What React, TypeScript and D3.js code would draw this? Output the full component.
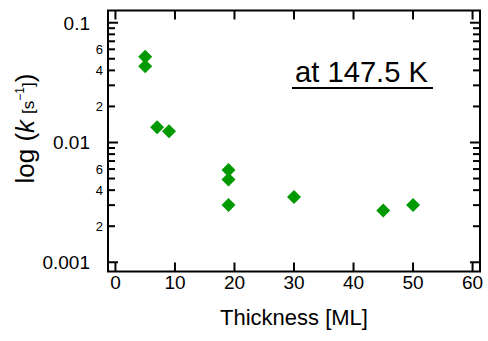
import React from "react";
import * as d3 from "d3";

const thickness = [5, 5, 7, 9, 19, 19, 19, 30, 45, 50];
const rate = [0.0519, 0.0434, 0.0134, 0.0124, 0.0059, 0.0049, 0.0030, 0.0035, 0.0027, 0.0030];
const xTicks = [0, 10, 20, 30, 40, 50, 60];
const yMajor = [0.001, 0.01, 0.1];
const yMajorLabels = ["0.001", "0.01", "0.1"];
const yMinorMult = [2, 3, 4, 5, 6, 7, 8, 9];
const yMinorLabeled = [2, 4, 6];

const W = 488;
const H = 341;
const L = 108, R = 480, T = 10.5, B = 271.5;
const FONT = "'Liberation Sans', Arial, sans-serif";

export default function App() {
  const x = d3.scaleLinear().domain([-1.25, 61.25]).range([L, R]);
  const y = d3.scaleLog().domain([Math.pow(10, -3.0771), Math.pow(10, -0.8979)]).range([B, T]);
  const sym = d3.symbol().type(d3.symbolSquare).size(98)()!;
  const minors: number[] = [];
  yMajor.slice(0, 2).forEach((m) => yMinorMult.forEach((k) => minors.push(m * k)));
  const minorLabels: { v: number; t: string }[] = [];
  yMajor.slice(0, 2).forEach((m) => yMinorLabeled.forEach((k) => minorLabels.push({ v: m * k, t: String(k) })));

  return (
    <svg width={W} height={H} style={{ position: "absolute", left: 0, top: 0, background: "#fff" }} fontFamily={FONT}>
      <rect x={0} y={0} width={W} height={H} fill="#fff" />
      {yMajor.map((v) => (
        <g key={"M" + v}>
          <line x1={L} x2={L + 10} y1={y(v)} y2={y(v)} stroke="#000" strokeWidth={2} />
          <line x1={R} x2={R - 10} y1={y(v)} y2={y(v)} stroke="#000" strokeWidth={2} />
        </g>
      ))}
      {minors.map((v) => (
        <g key={"m" + v}>
          <line x1={L} x2={L + 7} y1={y(v)} y2={y(v)} stroke="#000" strokeWidth={2} />
          <line x1={R} x2={R - 7} y1={y(v)} y2={y(v)} stroke="#000" strokeWidth={2} />
        </g>
      ))}
      {xTicks.map((v) => (
        <g key={"x" + v}>
          <line x1={x(v)} x2={x(v)} y1={B} y2={B - 9} stroke="#000" strokeWidth={2} />
          <line x1={x(v)} x2={x(v)} y1={T} y2={T + 9} stroke="#000" strokeWidth={2} />
          <text x={x(v)} y={288.5} textAnchor="middle" fontSize={19}>{v}</text>
        </g>
      ))}
      {yMajor.map((v, i) => (
        <text key={"yl" + v} x={90} y={y(v)} dy="0.36em" textAnchor="end" fontSize={19}>{yMajorLabels[i]}</text>
      ))}
      {minorLabels.map((d) => (
        <text key={"ml" + d.v} x={103} y={y(d.v)} dy="0.36em" textAnchor="end" fontSize={13}>{d.t}</text>
      ))}
      <rect x={L} y={T} width={R - L} height={B - T} fill="none" stroke="#000" strokeWidth={2} />
      {thickness.map((t, i) => (
        <path key={"p" + i} d={sym} transform={`translate(${x(t)},${y(rate[i])}) rotate(45)`} fill="#009900" />
      ))}
      <text x={295} y={82} fontSize={29} textLength={133} lengthAdjust="spacingAndGlyphs">at 147.5 K</text>
      <line x1={292} x2={433} y1={88} y2={88} stroke="#000" strokeWidth={2} />
      <text x={294} y={325} textAnchor="middle" fontSize={22}>Thickness [ML]</text>
      <text transform={`translate(34,128.5) rotate(-90)`} textAnchor="middle">
        <tspan fontSize={26}>log (</tspan>
        <tspan fontSize={26} fontStyle="italic">k</tspan>
        <tspan fontSize={17} dx={6}>[s</tspan>
        <tspan fontSize={12} dy={-10}>−1</tspan>
        <tspan fontSize={17} dy={10}>]</tspan>
        <tspan fontSize={26}>)</tspan>
      </text>
    </svg>
  );
}
